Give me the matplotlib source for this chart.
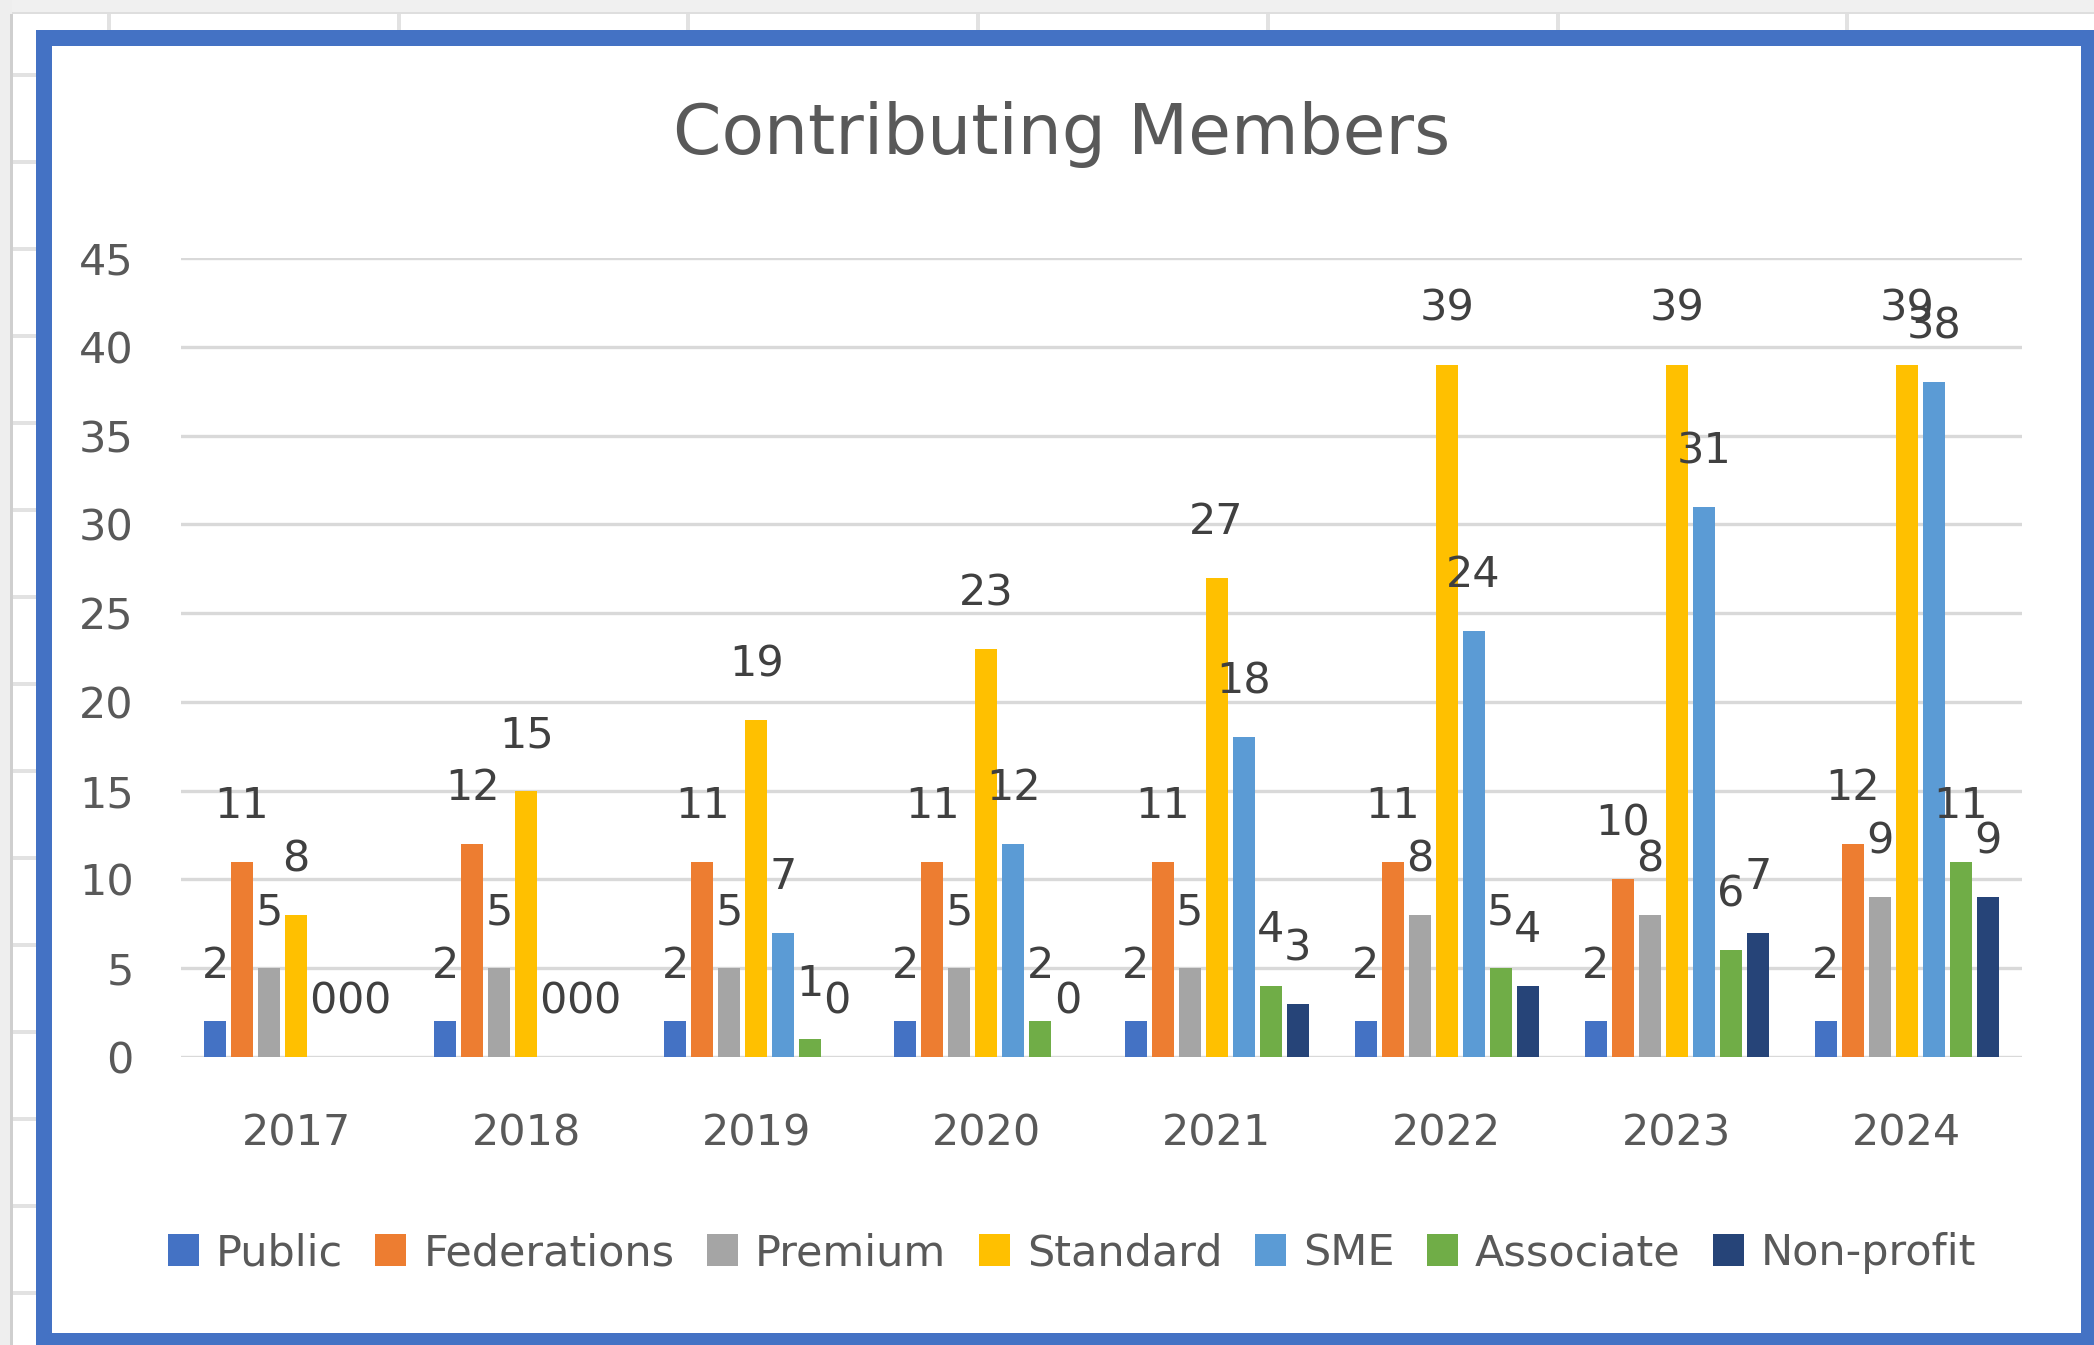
import numpy as np
import matplotlib
matplotlib.use("Agg")
import matplotlib.pyplot as plt
from matplotlib.patches import Rectangle

# data
years = ['2017', '2018', '2019', '2020', '2021', '2022', '2023', '2024']
series = ['Public', 'Federations', 'Premium', 'Standard', 'SME', 'Associate', 'Non-profit']
public      = [2, 2, 2, 2, 2, 2, 2, 2]
federations = [11, 12, 11, 11, 11, 11, 10, 12]
premium     = [5, 5, 5, 5, 5, 8, 8, 9]
standard    = [8, 15, 19, 23, 27, 39, 39, 39]
sme         = [0, 0, 7, 12, 18, 24, 31, 38]
associate   = [0, 0, 1, 2, 4, 5, 6, 11]
nonprofit   = [0, 0, 0, 0, 3, 4, 7, 9]
colors = ['#4472C4', '#ED7D31', '#A5A5A5', '#FFC000', '#5B9BD5', '#70AD47', '#264478']

values = [public, federations, premium, standard, sme, associate, nonprofit]

W, H = 2094, 1345
fig = plt.figure(figsize=(W / 100, H / 100), dpi=100)
fig.patch.set_facecolor('white')

# spreadsheet behind the chart + the blue selection border
bg = fig.add_axes([0, 0, 1, 1], zorder=-5)
bg.set_xlim(0, W)
bg.set_ylim(H, 0)
bg.axis('off')
bg.add_patch(Rectangle((0, 0), W, 14, color='#f0f0f0', lw=0))
bg.add_patch(Rectangle((0, 12), W, 2, color='#dedede', lw=0))
bg.add_patch(Rectangle((0, 0), 12, H, color='#eeeeee', lw=0))
bg.add_patch(Rectangle((10, 14), 3, H, color='#cfcfcf', lw=0))
for cx in [109, 399, 688, 978, 1268, 1558, 1847]:
    bg.add_patch(Rectangle((cx - 2, 14), 4, 16, color='#e2e2e2', lw=0))
for ry in np.arange(75, H, 87):
    bg.add_patch(Rectangle((13, ry - 2), 23, 4, color='#e2e2e2', lw=0))
bg.add_patch(Rectangle((36, 30), W - 36, H - 30, color='#4472C4', lw=0))
bg.add_patch(Rectangle((52, 46), 2081 - 52, 1333 - 46, color='white', lw=0))

ax = fig.add_axes([181 / W, 1 - 1057 / H, 1841 / W, 799 / H])
ax.set_facecolor('none')

x = np.arange(len(years))
pitch = 0.1173
bw = 0.0956
for i, (name, vals, c) in enumerate(zip(series, values, colors)):
    xs = x + (i - 3) * pitch
    ax.bar(xs, vals, bw, color=c, label=name, zorder=2)
    for xx, v in zip(xs, vals):
        ax.annotate(str(v), (xx, v), xytext=(0, 40), textcoords='offset points',
                    ha='center', va='center', fontsize=31, color='#404040', zorder=5)

ax.set_xlim(-0.5, len(years) - 0.5)
ax.set_ylim(0, 45)
ax.set_yticks(range(0, 46, 5))
ax.set_xticks(x)
ax.set_xticklabels(years)
ax.grid(axis='y', color='#d9d9d9', lw=2.4, zorder=0)
ax.set_axisbelow(True)
for s in ax.spines.values():
    s.set_visible(False)
ax.tick_params(axis='both', length=0, labelsize=31, labelcolor='#595959')
ax.tick_params(axis='y', pad=34)
ax.tick_params(axis='x', pad=40)

fig.text(1062 / W, 1 - 134 / H, 'Contributing Members', ha='center', va='center',
         fontsize=50, color='#595959')

fig.legend(loc='center', bbox_to_anchor=(1072 / W, 1 - 1253 / H), ncol=7,
           frameon=False, fontsize=31, handlelength=0.72, handleheight=0.75,
           handletextpad=0.4, columnspacing=0.75, labelcolor='#595959')

fig.savefig('out.png', dpi=100)
